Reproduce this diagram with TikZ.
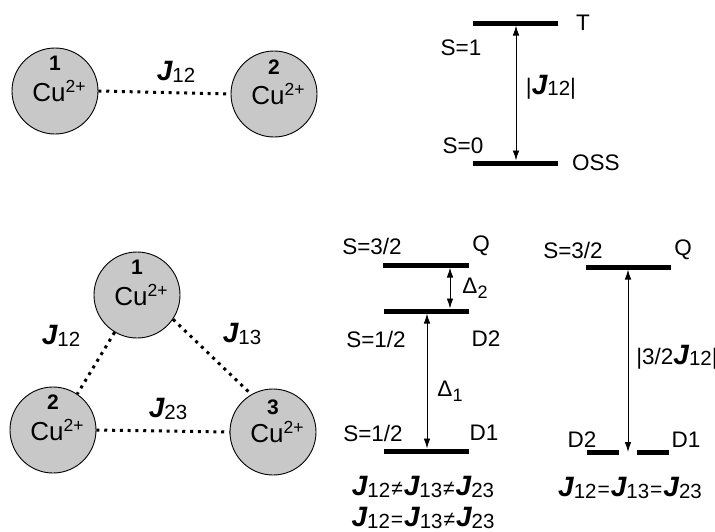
\documentclass[tikz,border=0pt]{standalone}
\usepackage{fontspec}
\setmainfont{Liberation Sans}
\usetikzlibrary{arrows.meta,calc}

% exchange constant J with a numeric subscript
\newcommand{\Jsym}[1]{{\fontsize{28}{28}\selectfont\bfseries\itshape J}{\fontsize{20.5}{20.5}\selectfont\raisebox{-1.5pt}{#1}}}
% copper(II) ion label
\newcommand{\Cuion}{{\fontsize{26}{26}\selectfont Cu}{\fontsize{17.5}{17.5}\selectfont\raisebox{8.5pt}{2+}}}
% energy gap symbol with subscript
\newcommand{\Dgap}[1]{{\fontsize{22.5}{22.5}\selectfont Δ}{\fontsize{18}{18}\selectfont\raisebox{-5pt}{#1}}}
% relation sign between couplings
\newcommand{\relsym}[1]{\kern1pt{\fontsize{21}{21}\selectfont #1}\kern1pt}

\begin{document}
\begin{tikzpicture}[x=1pt,y=-1pt,
  ion/.style={circle,draw=black,line width=0.9pt,fill={rgb,255:red,200;green,200;blue,200},
    minimum size=86pt,inner sep=0pt},
  ionnum/.style={font=\fontsize{21}{21}\selectfont\bfseries,inner sep=0pt},
  ionname/.style={inner sep=0pt},
  coupling/.style={line width=3pt,dash pattern=on 3pt off 4.8pt},
  lvl/.style={line width=5pt},
  gap/.style={line width=0.9pt,{Latex[length=10pt,width=6.5pt]}-{Latex[length=10pt,width=6.5pt]}},
  txt/.style={font=\fontsize{22.5}{22.5}\selectfont,inner sep=0pt},
  lbl/.style={inner sep=0pt}
]
\useasboundingbox (0,0) rectangle (715,531);

% ---------- dinuclear unit ----------
\node[ion] (a1) at (55,91) {};
\node[ion] (a2) at (274,94) {};
\node[ionnum] (a1n) at ($(a1)+(0,-28)$) {1};
\node[ionname] (a1c) at ($(a1)+(4,0)$) {\Cuion};
\node[ionnum] (a2n) at ($(a2)+(0,-27)$) {2};
\node[ionname] (a2c) at ($(a2)+(4,0)$) {\Cuion};
\draw[coupling] (a1.east) -- (a2.west);
\node[lbl] (ja) at (176,72) {\Jsym{12}};

% ---------- dinuclear energy levels ----------
\coordinate (TL) at (473,23);  \coordinate (TR) at (558,23);
\coordinate (OL) at (473,163); \coordinate (OR) at (558,163);
\draw[lvl] (TL) -- (TR);
\draw[lvl] (OL) -- (OR);
\coordinate (tA) at (516,25.5); \coordinate (tB) at (516,160.5);
\draw[gap] (tA) -- (tB);
\node[txt] (lT) at (583,23) {T};
\node[txt] (lS1) at (461,48) {S=1};
\node[txt] (lJ) at (551,87) {|\Jsym{12}|};
\node[txt] (lS0) at (463,146) {S=0};
\node[txt,anchor=west] (lO) at (572,163) {OSS};

% ---------- trinuclear unit ----------
\node[ion] (b1) at (137,295) {};
\node[ion] (b2) at (53,430) {};
\node[ion] (b3) at (273,432) {};
\node[ionnum] (b1n) at ($(b1)+(0,-28)$) {1};
\node[ionname] (b1c) at ($(b1)+(4,0)$) {\Cuion};
\node[ionnum] (b2n) at ($(b2)+(0,-28)$) {2};
\node[ionname] (b2c) at ($(b2)+(4,0)$) {\Cuion};
\node[ionnum] (b3n) at ($(b3)+(0,-25)$) {3};
\node[ionname] (b3c) at ($(b3)+(4,0)$) {\Cuion};
\draw[coupling] (b1.239) -- (b2.56);
\draw[coupling] (b1.-34) -- (b3.120);
\draw[coupling] (b2.east) -- (b3.west);
\node[lbl] (jb12) at (61,336) {\Jsym{12}};
\node[lbl] (jb13) at (242,334) {\Jsym{13}};
\node[lbl] (jb23) at (168,409) {\Jsym{23}};

% ---------- trinuclear levels, unequal couplings ----------
\coordinate (QL) at (383,265); \coordinate (QR) at (469,265);
\coordinate (DuL) at (384,311); \coordinate (DuR) at (469,311);
\coordinate (DlL) at (384,451); \coordinate (DlR) at (469,451);
\draw[lvl] (QL) -- (QR);
\draw[lvl] (DuL) -- (DuR);
\draw[lvl] (DlL) -- (DlR);
\coordinate (g2a) at (450,267.5); \coordinate (g2b) at (450,308.5);
\coordinate (g1a) at (427,313.5); \coordinate (g1b) at (427,448.5);
\draw[gap] (g2a) -- (g2b);
\draw[gap] (g1a) -- (g1b);
\node[txt] (m1) at (372,246) {S=3/2};
\node[txt] (m2) at (481,246) {Q};
\node[lbl] (m3) at (475,288) {\Dgap{2}};
\node[txt] (m4) at (376,339) {S=1/2};
\node[txt] (m5) at (486,339) {D2};
\node[lbl] (m6) at (450,391) {\Dgap{1}};
\node[txt] (m7) at (373,433) {S=1/2};
\node[txt] (m8) at (484,433) {D1};
\node[lbl] (m9) at (423,487) {\Jsym{12}\relsym{≠}\Jsym{13}\relsym{≠}\Jsym{23}};
\node[lbl] (m10) at (423,518) {\Jsym{12}\relsym{=}\Jsym{13}\relsym{≠}\Jsym{23}};

% ---------- trinuclear levels, equal couplings ----------
\coordinate (RQL) at (586,267); \coordinate (RQR) at (671,267);
\coordinate (RaL) at (587,452); \coordinate (RaR) at (619,452);
\coordinate (RbL) at (637,452); \coordinate (RbR) at (669,452);
\draw[lvl] (RQL) -- (RQR);
\draw[lvl] (RaL) -- (RaR);
\draw[lvl] (RbL) -- (RbR);
\coordinate (rg1) at (628,269.5); \coordinate (rg2) at (628,452);
\draw[gap] (rg1) -- (rg2);
\node[txt] (r1) at (573,250) {S=3/2};
\node[txt] (r2) at (683,250) {Q};
\node[txt] (r3) at (677,357) {|3/2\Jsym{12}|};
\node[txt] (r4) at (582,440) {D2};
\node[txt] (r5) at (686,440) {D1};
\node[lbl] (r6) at (630,488) {\Jsym{12}\relsym{=}\Jsym{13}\relsym{=}\Jsym{23}};
\end{tikzpicture}
\end{document}
